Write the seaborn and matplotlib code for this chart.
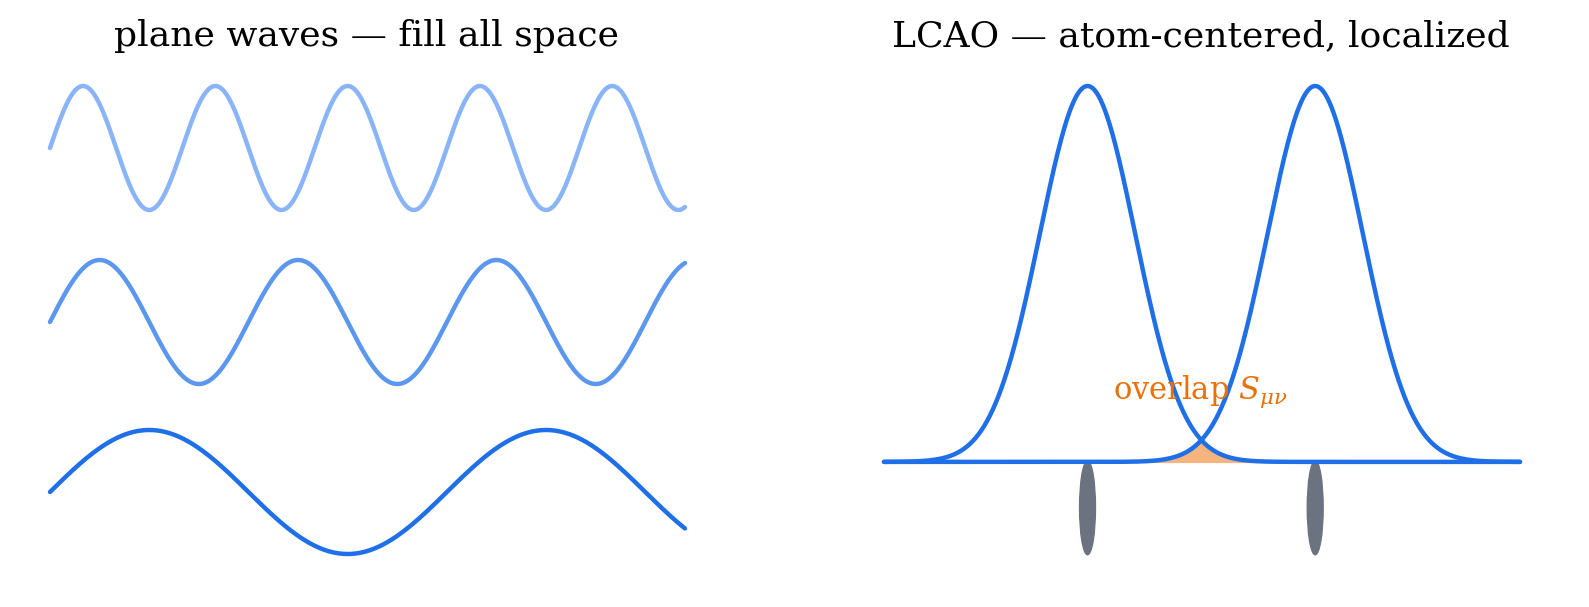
import numpy as np
import pandas as pd
import matplotlib.pyplot as plt
import seaborn as sns
from matplotlib.patches import Ellipse

# Left panel: plane waves (cycles across the panel, vertical offset, colour)
wave_cycles = [4.8, 3.2, 1.6]
wave_offsets = [-148, -322, -492]
wave_amp = 62
wave_colors = ["#8ab4f8", "#5b97ef", "#1f6fe8"]

# Right panel: two atom-centred gaussians
atom_centers = [3.2, 6.78]
atom_sigma = 0.75
gauss_color = "#1f6fe8"
overlap_color = "#f6b57e"
atom_color = "#6b7280"
label_color = "#e8710a"

sns.set_theme(style="white")
plt.rcParams["font.family"] = ["DejaVu Serif"]
plt.rcParams["mathtext.fontset"] = "dejavuserif"

fig = plt.figure(figsize=(15.89, 6.07), dpi=100)
W, H = 1589, 607
ax1 = fig.add_axes([50 / W, 1 - 560 / H, 635 / W, 480 / H])
ax2 = fig.add_axes([884 / W, 1 - 560 / H, 636 / W, 480 / H])

t = np.linspace(0, 1, 800)
for cyc, off, col in zip(wave_cycles, wave_offsets, wave_colors):
    df = pd.DataFrame({"x": t, "y": off + wave_amp * np.sin(2 * np.pi * cyc * t)})
    sns.lineplot(data=df, x="x", y="y", ax=ax1, color=col, linewidth=3.2, clip_on=False)
ax1.set_xlim(0, 1)
ax1.set_ylim(-560, -80)

x = np.linspace(0, 10, 1500)
curves = [np.exp(-0.5 * ((x - c) / atom_sigma) ** 2) for c in atom_centers]
ax2.fill_between(x, 0, np.minimum(curves[0], curves[1]), color=overlap_color, zorder=2)
for c in atom_centers:
    ax2.add_patch(Ellipse((c, -0.122), 0.25, 0.25, color=atom_color, zorder=1))
for g in curves:
    sns.lineplot(x=x, y=g, ax=ax2, color=gauss_color, linewidth=3.2, zorder=3, clip_on=False)
ax2.text(4.97, 0.186, r"overlap $S_{\mu\nu}$", color=label_color, fontsize=22,
         ha="center", va="center")
ax2.set_xlim(0, 10)
ax2.set_ylim(-0.261, 1.016)

for ax in (ax1, ax2):
    ax.axis("off")

fig.text(367 / W, 1 - 36 / H, "plane waves — fill all space", ha="center", va="center",
         fontsize=26, color="black")
fig.text(1201 / W, 1 - 36 / H, "LCAO — atom-centered, localized", ha="center", va="center",
         fontsize=26, color="black")

fig.savefig("out.png", dpi=100)
